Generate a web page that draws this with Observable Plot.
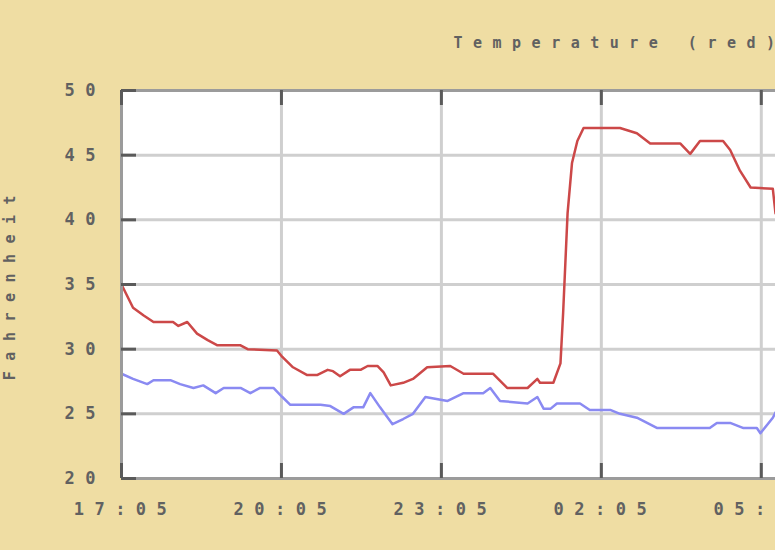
<!DOCTYPE html>
<html><head><meta charset="utf-8">
<script src="https://cdn.jsdelivr.net/npm/d3@7"></script>
<script src="https://cdn.jsdelivr.net/npm/@observablehq/plot@0.6"></script>
<style>
html,body{margin:0;padding:0;background:#efdda3;overflow:hidden;}
</style></head><body><div id="chart"></div>
<script>
const redTimes = ["17:05","17:18","17:30","17:41","18:03","18:09","18:19","18:30","18:42","18:53","19:19","19:27","20:00","20:06","20:18","20:34","20:45","20:57","21:03","21:11","21:22","21:34","21:42","21:53","22:00","22:08","22:22","22:33","22:49","23:15","23:30","00:03","00:19","00:42","00:53","00:56","01:11","01:19","01:22","01:27","01:32","01:38","01:45","02:26","02:45","03:00","03:34","03:45","03:56","04:22","04:30","04:41","04:53","05:18","05:21"];
const redValues = [35.0,33.2,32.6,32.1,32.1,31.8,32.1,31.2,30.7,30.3,30.3,30.0,29.9,29.4,28.6,28.0,28.0,28.4,28.3,27.9,28.4,28.4,28.7,28.7,28.2,27.2,27.4,27.7,28.6,28.7,28.1,28.1,27.0,27.0,27.7,27.4,27.4,28.9,32.8,40.5,44.4,46.1,47.1,47.1,46.7,45.9,45.9,45.1,46.1,46.1,45.4,43.8,42.5,42.4,40.5];
const blueTimes = ["17:05","17:18","17:34","17:41","18:00","18:11","18:26","18:37","18:51","19:00","19:19","19:30","19:41","19:56","20:06","20:15","20:49","21:00","21:15","21:26","21:37","21:45","21:56","22:10","22:22","22:33","22:47","23:12","23:30","23:52","00:00","00:11","00:42","00:53","01:00","01:08","01:15","01:41","01:52","02:15","02:26","02:45","03:08","04:07","04:15","04:30","04:45","05:00","05:04","05:18","05:21"];
const blueValues = [28.1,27.7,27.3,27.6,27.6,27.3,27.0,27.2,26.6,27.0,27.0,26.6,27.0,27.0,26.3,25.7,25.7,25.6,25.0,25.5,25.5,26.6,25.5,24.2,24.6,25.0,26.3,26.0,26.6,26.6,27.0,26.0,25.8,26.3,25.4,25.4,25.8,25.8,25.3,25.3,25.0,24.7,23.9,23.9,24.3,24.3,23.9,23.9,23.5,24.7,25.1];
const xTickLabels = ["17:05","20:05","23:05","02:05","05:05"];
const xDomainLabels = ["17:05","05:21"];
const yTicks = [20,25,30,35,40,45,50];
const titleText = "Temperature (red)";
const yLabel = "Fahrenheit";

const startHour = 17;
function toDate(s){
  const [h,m] = s.split(":").map(Number);
  return new Date(Date.UTC(2010,0,h < startHour ? 2 : 1,h,m));
}
const red = redTimes.map((t,i)=>({t: toDate(t), v: redValues[i]}));
const blue = blueTimes.map((t,i)=>({t: toDate(t), v: blueValues[i]}));
const xTicks = xTickLabels.map(toDate);
const xDomain = xDomainLabels.map(toDate);
const x0 = xDomain[0];

const tickColor = "#5a5a5a";
const chart = Plot.plot({
  width: 775, height: 550,
  marginLeft: 121, marginRight: 0, marginTop: 90, marginBottom: 72,
  style: {background: "#efdda3", fontFamily: "DejaVu Sans Mono", fontSize: "17px", fontWeight: "bold", letterSpacing: "10.5px", color: "#616161", overflow: "hidden"},
  x: {type: "utc", domain: xDomain},
  y: {domain: [20, 50]},
  marks: [
    Plot.frame({fill: "white", stroke: null}),
    Plot.gridY({ticks: yTicks.slice(1, -1), stroke: "#cfcfcf", strokeOpacity: 1, strokeWidth: 3}),
    Plot.gridX({ticks: xTicks.slice(1), stroke: "#cfcfcf", strokeOpacity: 1, strokeWidth: 3}),
    Plot.line(blue, {x: "t", y: "v", stroke: "#8a8af2", strokeWidth: 2.5}),
    Plot.line(red, {x: "t", y: "v", stroke: "#cc4848", strokeWidth: 2.5}),
    Plot.ruleX([x0], {stroke: "#9b9b9b", strokeWidth: 3}),
    Plot.ruleY([20, 50], {stroke: "#9b9b9b", strokeWidth: 3}),
    Plot.ruleY(yTicks, {x1: () => x0, x2: () => x0, insetRight: -15, stroke: tickColor, strokeWidth: 3}),
    Plot.ruleX(xTicks, {y1: () => 50, y2: () => 50, insetBottom: -15, stroke: tickColor, strokeWidth: 3}),
    Plot.ruleX(xTicks, {y1: () => 20, y2: () => 20, insetTop: -15, stroke: tickColor, strokeWidth: 3}),
    Plot.axisY({ticks: yTicks, tickSize: 0, tickPadding: 15.5, label: null}),
    Plot.axisX({ticks: xTicks, tickSize: 0, tickPadding: 24, tickFormat: d3.utcFormat("%H:%M"), label: null, dx: 4}),
    Plot.text([titleText], {frameAnchor: "top-left", dx: 332, dy: -47, textAnchor: "start", lineAnchor: "middle", fontSize: 15}),
    Plot.text([yLabel], {frameAnchor: "left", rotate: -90, dx: -107, dy: -2, lineAnchor: "bottom", textAnchor: "middle", fontSize: 15})
  ]
});
document.getElementById("chart").appendChild(chart);
</script>
</body></html>
